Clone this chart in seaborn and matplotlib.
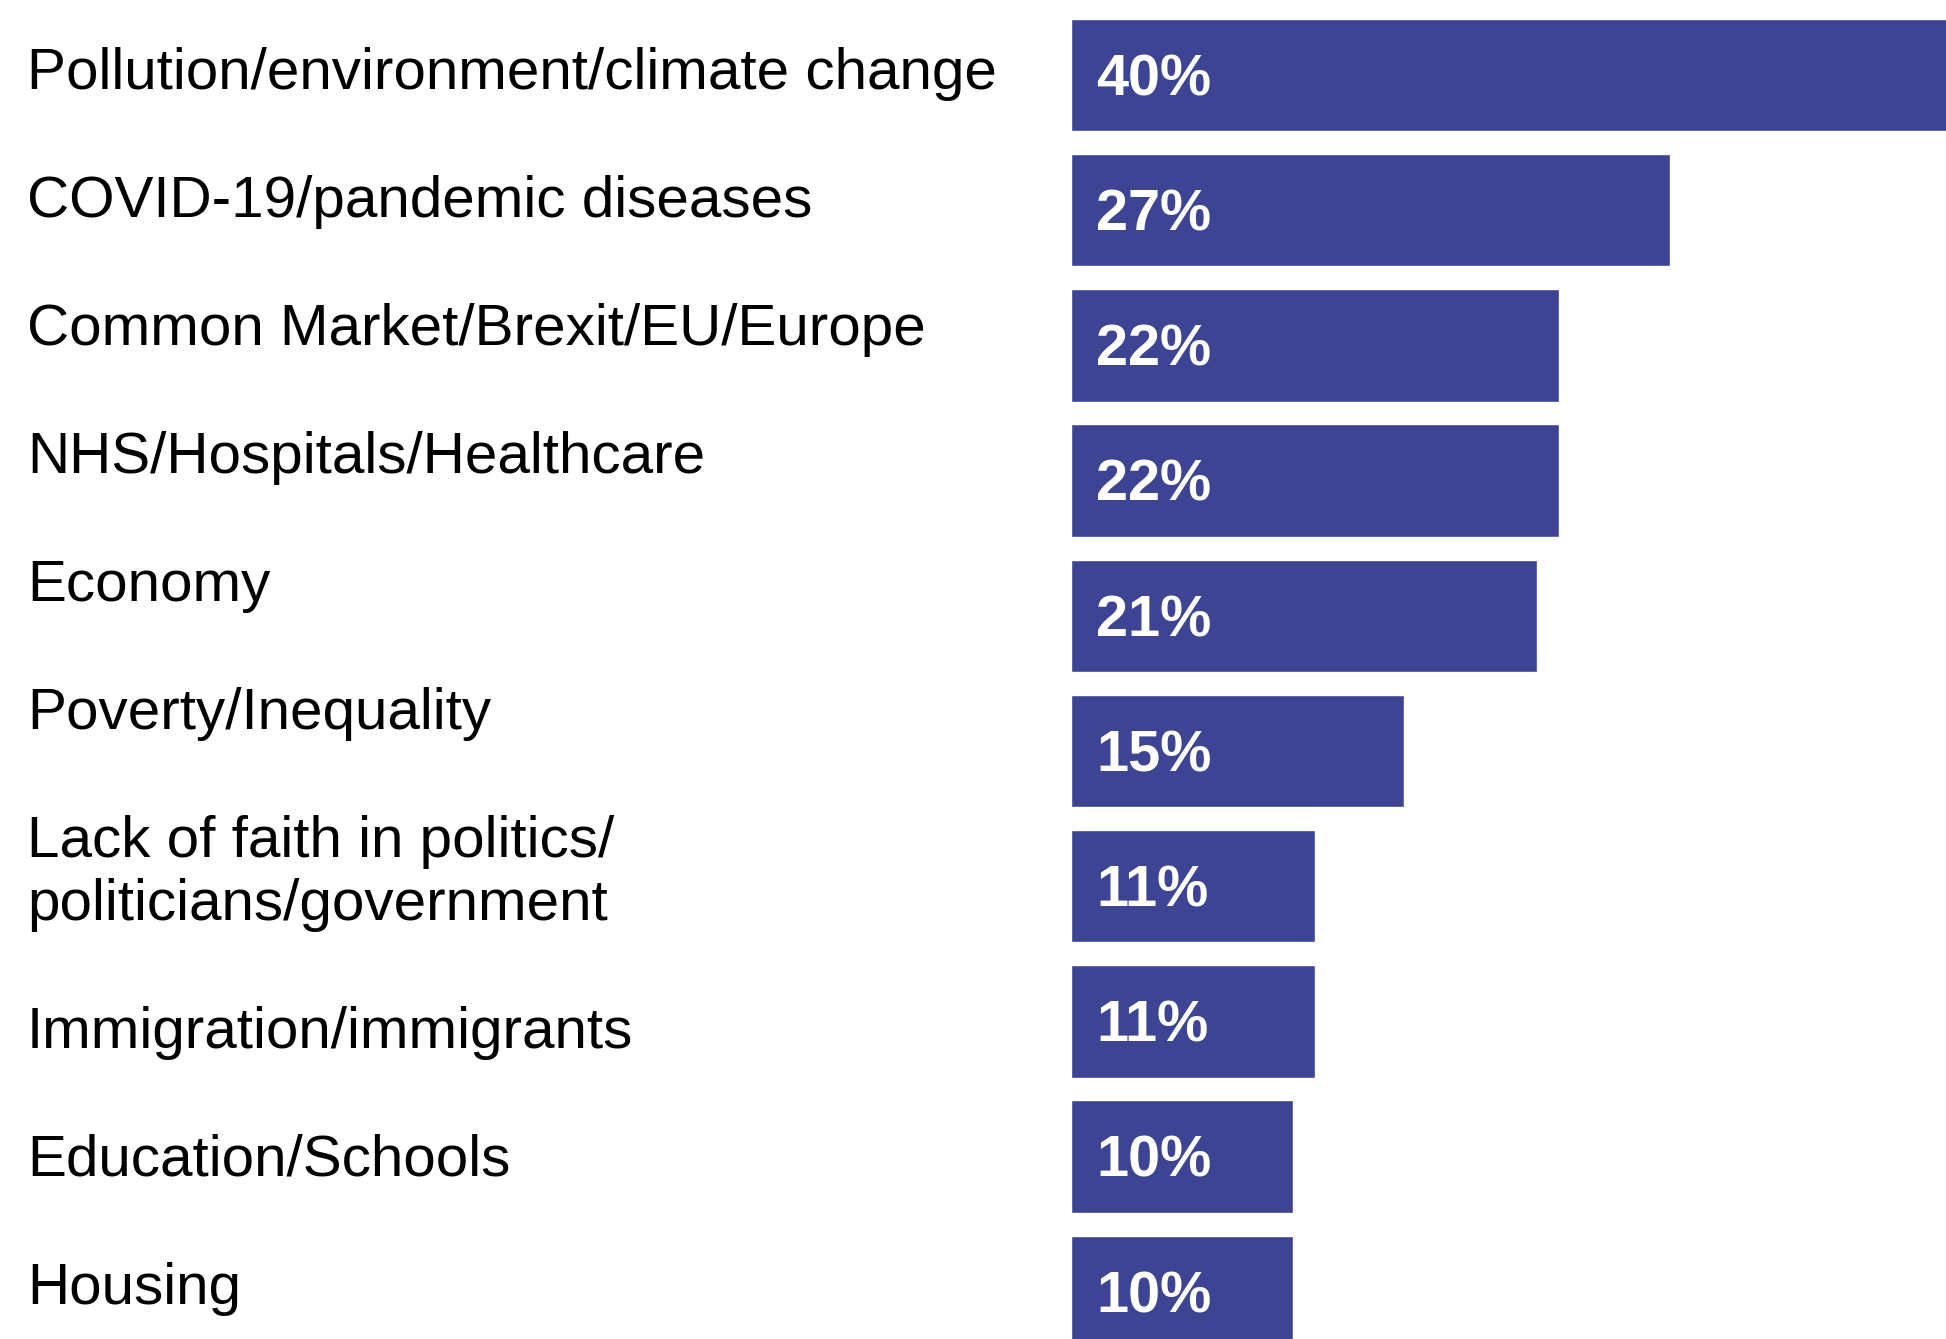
import matplotlib
matplotlib.use("Agg")
import matplotlib.pyplot as plt
import seaborn as sns
import pandas as pd

# Issues named as most important facing the country (% of respondents)
categories = [
    "Pollution/environment/climate change",
    "COVID-19/pandemic diseases",
    "Common Market/Brexit/EU/Europe",
    "NHS/Hospitals/Healthcare",
    "Economy",
    "Poverty/Inequality",
    "Lack of faith in politics/\npoliticians/government",
    "Immigration/immigrants",
    "Education/Schools",
    "Housing",
]
values = [40, 27, 22, 22, 21, 15, 11, 11, 10, 10]

BAR_COLOR = "#3C4493"
W_PX, H_PX, DPI = 1946, 1339, 100

sns.set_theme(style="white")
plt.rcParams["font.family"] = ["Liberation Sans", "DejaVu Sans"]

df = pd.DataFrame({"issue": categories, "share": values})

fig = plt.figure(figsize=(W_PX / DPI, H_PX / DPI), dpi=DPI)
fig.patch.set_facecolor("white")

# Bar panel occupies the right part of the figure, full height
bar_left_px = 1071
ax = fig.add_axes([bar_left_px / W_PX, 0, 1 - bar_left_px / W_PX, 1])
sns.barplot(data=df, y="issue", x="share", orient="h", color=BAR_COLOR,
            saturation=1, width=0.83, ax=ax)

px_per_unit = 22.2
row_pitch_px = 135.2
first_center_px = 75
ax.set_xlim(0, (W_PX - bar_left_px) / px_per_unit)
ax.set_ylim((H_PX - first_center_px) / row_pitch_px,
            -first_center_px / row_pitch_px)
ax.set_axis_off()

# Percentage labels inside each bar
for i, v in enumerate(values):
    ax.annotate(f"{v}%", xy=(0, i), xytext=(18, -14.6),
                textcoords="offset points", ha="left", va="baseline",
                color="white", fontsize=41.5, fontweight="bold")

# Category labels, flowed down the left column
baseline_px = 89
para_pitch = 128
line_pitch = 62.5
for label in categories:
    lines = label.split("\n")
    for j, line in enumerate(lines):
        fig.text(27 / W_PX, 1 - baseline_px / H_PX, line, ha="left",
                 va="baseline", fontsize=42, color="black")
        if j < len(lines) - 1:
            baseline_px += line_pitch
    baseline_px += para_pitch

fig.savefig("out.png", dpi=DPI, facecolor="white")
